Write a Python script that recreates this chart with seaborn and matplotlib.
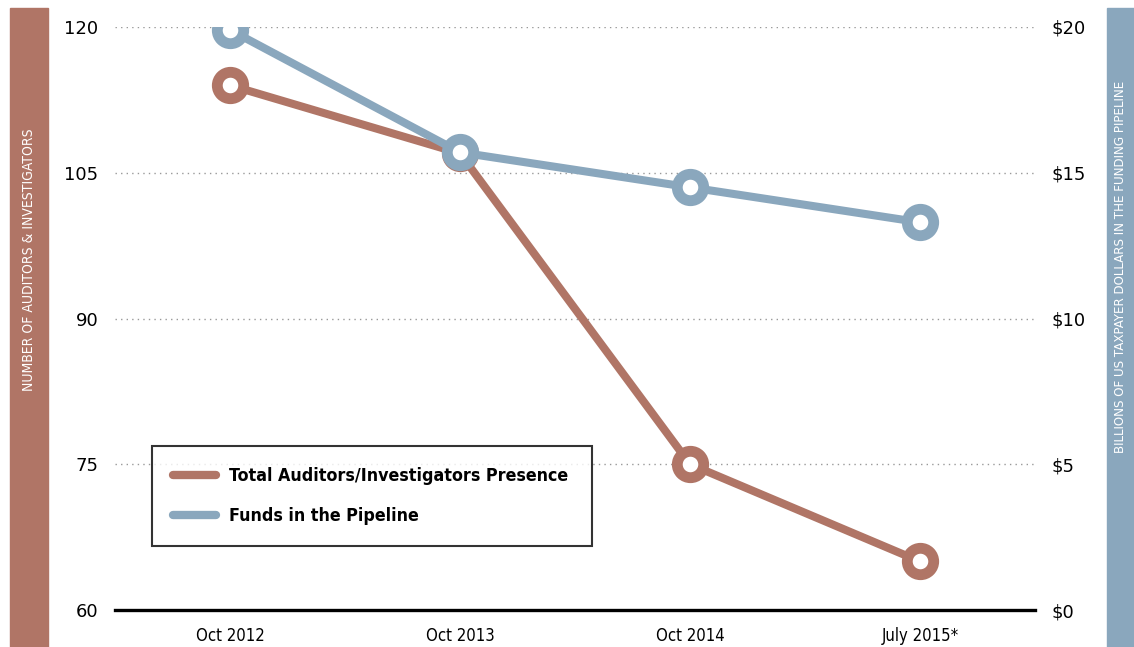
import matplotlib
matplotlib.use("Agg")
import matplotlib.pyplot as plt
from matplotlib.lines import Line2D
from matplotlib.patches import Rectangle
import seaborn as sns

periods = ["Oct 2012", "Oct 2013", "Oct 2014", "July 2015*"]
auditors = [114, 107, 75, 65]
funds = [19.9, 15.7, 14.5, 13.3]

left_ticks = [60, 75, 90, 105, 120]
right_ticks = [0, 5, 10, 15, 20]
right_labels = ["$0", "$5", "$10", "$15", "$20"]

brown = "#b07566"
blue = "#8aa7bd"
narrow = ["Liberation Sans Narrow", "DejaVu Sans"]

sns.set_style("white")
plt.rcParams["font.family"] = ["DejaVu Sans"]

fig = plt.figure(figsize=(11.34, 6.47), dpi=100)
ax = fig.add_axes([115 / 1134, 37 / 647, 920 / 1134, 583 / 647])
ax2 = ax.twinx()

line_kw = dict(lw=5.8, marker="o", ms=19, mfc="white", mew=7.8, solid_capstyle="round")
sns.lineplot(x=periods, y=auditors, ax=ax, color=brown, mec=brown, **line_kw)
sns.lineplot(x=periods, y=funds, ax=ax2, color=blue, mec=blue, **line_kw)

ax.set_xlim(-0.5, 3.5)
ax.set_ylim(60, 120)
ax2.set_ylim(0, 20)
ax.set_yticks(left_ticks)
ax2.set_yticks(right_ticks)
ax2.set_yticklabels(right_labels)
ax.set_ylabel("")
ax2.set_ylabel("")

ax.grid(axis="y", color="#999999", ls=(0, (1, 3)), lw=1)
ax.grid(axis="x", visible=False)
ax2.grid(False)
for a in (ax, ax2):
    for s in ["left", "right", "top", "bottom"]:
        a.spines[s].set_visible(False)
ax.spines["bottom"].set_visible(True)
ax.spines["bottom"].set_linewidth(2.4)
ax.spines["bottom"].set_color("black")

ax.tick_params(axis="y", length=0, pad=12, labelsize=13, colors="black")
ax2.tick_params(axis="y", length=0, pad=12, labelsize=13, colors="black")
ax.tick_params(axis="x", length=0, pad=12)
for t in ax.get_xticklabels():
    t.set_family(narrow)
    t.set_fontstretch("condensed")
    t.set_fontsize(12)
    t.set_color("black")

# coloured axis title bars
fig.patches.append(Rectangle((10 / 1134, 0), 38 / 1134, 639 / 647,
                             transform=fig.transFigure, color=brown, zorder=0))
fig.patches.append(Rectangle((1107 / 1134, 0), 27 / 1134, 639 / 647,
                             transform=fig.transFigure, color=blue, zorder=0))
fig.text(29 / 1134, 1 - 260 / 647, "NUMBER OF AUDITORS & INVESTIGATORS", rotation=90,
         color="white", ha="center", va="center", fontsize=10, family=narrow,
         fontstretch="condensed")
fig.text(1121 / 1134, 1 - 267 / 647, "BILLIONS OF US TAXPAYER DOLLARS IN THE FUNDING PIPELINE",
         rotation=90, color="white", ha="center", va="center", fontsize=9.5, family=narrow,
         fontstretch="condensed")

handles = [Line2D([], [], color=brown, lw=6, solid_capstyle="round"),
           Line2D([], [], color=blue, lw=6, solid_capstyle="round")]
leg = ax2.legend(handles, ["Total Auditors/Investigators Presence", "Funds in the Pipeline"],
                 loc="lower left", bbox_to_anchor=(0.04, 0.109, 0.478, 0.175), mode="expand",
                 borderaxespad=0, frameon=True, fancybox=False, edgecolor="black",
                 handlelength=2.4, borderpad=1.2, labelspacing=1.25, handletextpad=0.75,
                 labelcolor="black",
                 prop={"family": narrow, "weight": "bold", "size": 12.8, "stretch": "condensed"})
leg.get_frame().set_linewidth(1.5)

fig.savefig("out.png", dpi=100)
